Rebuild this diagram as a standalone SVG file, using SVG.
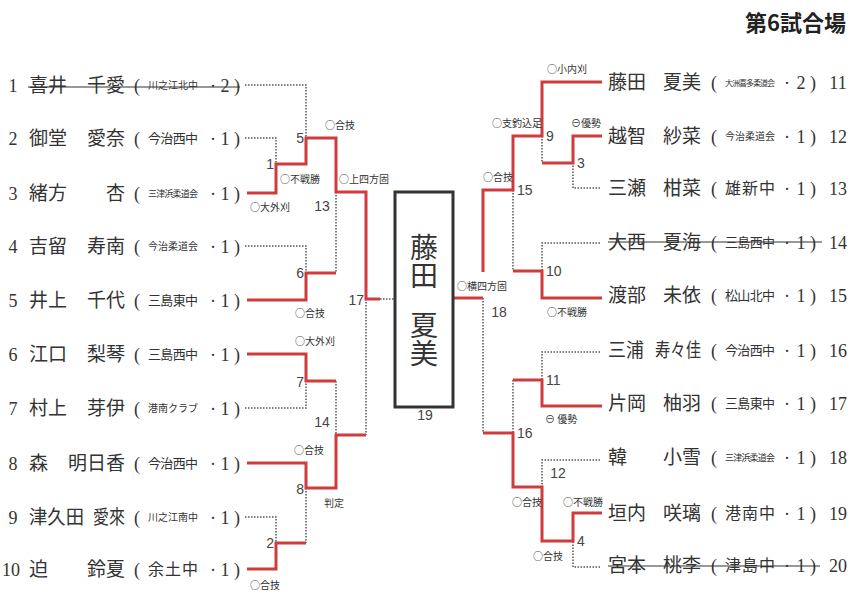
<svg xmlns="http://www.w3.org/2000/svg" width="864" height="595" viewBox="0 0 864 595">
<style>
.nm{font-family:"Liberation Serif","Noto Sans CJK JP",serif;font-size:19px;fill:#333}
.no{font-family:"Liberation Serif",serif;font-size:18px;fill:#333}
.sc{font-family:"Noto Sans CJK JP",sans-serif;fill:#333}
.lb{font-family:"Noto Sans CJK JP",sans-serif;font-size:10px;fill:#333}
.nd{font-family:"Liberation Sans",sans-serif;font-size:14px;fill:#444}
.bx{font-family:"Noto Sans CJK JP",sans-serif;font-size:28px;fill:#333;writing-mode:vertical-rl}
.w{fill:none;stroke:#d03c3c;stroke-width:3;stroke-linejoin:miter}
.d{fill:none;stroke:#555;stroke-width:1.5;stroke-dasharray:1.5 1.5}
.st{stroke:#333;stroke-width:1.2}
</style>
<rect width="864" height="595" fill="#fff"/>
<text x="846" y="31" text-anchor="end" style="font-family:'Noto Sans CJK JP',sans-serif;font-size:22px;font-weight:bold;fill:#222">第6試合場</text>

<g id="connectors">
<path class="d" d="M245,85 H306 V138"/>
<path class="d" d="M245,138 H276 V164"/>
<path class="d" d="M336,192 V273"/>
<path class="d" d="M245,246 H306 V273"/>
<path class="d" d="M366,299 V435"/>
<path class="d" d="M380,299 H394"/>
<path class="d" d="M245,408 H306 V381"/>
<path class="d" d="M336,381 V435"/>
<path class="d" d="M306,488 V543"/>
<path class="d" d="M245,517 H276 V543"/>
<path class="w" d="M247,193 H276 V164 H306 V138 H336 V192 H366 V299 H380"/>
<path class="w" d="M247,300 H306 V273 H336"/>
<path class="w" d="M247,354 H306 V381 H336"/>
<path class="w" d="M247,463 H306 V488 H336 V435 H366"/>
<path class="w" d="M247,569 H276 V543 H306"/>

<path class="d" d="M542,136 V163"/>
<path class="d" d="M600,188 H573 V163"/>
<path class="d" d="M513,190 V271"/>
<path class="d" d="M600,243 H542 V271"/>
<path class="d" d="M483,298 V433"/>
<path class="d" d="M600,352 H542 V380"/>
<path class="d" d="M513,380 V433"/>
<path class="d" d="M600,460 H542 V487"/>
<path class="d" d="M600,567 H573 V541"/>
<path class="w" d="M454,298 H483"/>
<path class="w" d="M483,272 V190 H513 V136 H542 V82 H602"/>
<path class="w" d="M602,136 H573 V163 H542"/>
<path class="w" d="M602,298 H542 V271 H513"/>
<path class="w" d="M602,406 H542 V380 H513"/>
<path class="w" d="M483,433 H513 V487 H542 V541 H573 V513 H602"/>
</g>

<g id="match-labels">
<text class="nd" x="304" y="143" text-anchor="end">5</text>
<text class="nd" x="274" y="169" text-anchor="end">1</text>
<text class="nd" x="322" y="211" text-anchor="middle">13</text>
<text class="nd" x="304" y="278" text-anchor="end">6</text>
<text class="nd" x="364" y="305" text-anchor="end">17</text>
<text class="nd" x="304" y="387" text-anchor="end">7</text>
<text class="nd" x="322" y="427" text-anchor="middle">14</text>
<text class="nd" x="304" y="494" text-anchor="end">8</text>
<text class="nd" x="274" y="548" text-anchor="end">2</text>
<text class="nd" x="425" y="420" text-anchor="middle">19</text>
<text class="nd" x="499" y="317" text-anchor="middle">18</text>
<text class="nd" x="546" y="141">9</text>
<text class="nd" x="577" y="168">3</text>
<text class="nd" x="517" y="195">15</text>
<text class="nd" x="546" y="276">10</text>
<text class="nd" x="546" y="385">11</text>
<text class="nd" x="517" y="438">16</text>
<text class="nd" x="558" y="478" text-anchor="middle">12</text>
<text class="nd" x="577" y="546">4</text>

<text class="lb" x="325" y="129">○合技</text>
<text class="lb" x="280" y="183">○不戦勝</text>
<text class="lb" x="339" y="183">○上四方固</text>
<text class="lb" x="250" y="211">○大外刈</text>
<text class="lb" x="295" y="317">○合技</text>
<text class="lb" x="295" y="345">○大外刈</text>
<text class="lb" x="294" y="454">○合技</text>
<text class="lb" x="324" y="507">判定</text>
<text class="lb" x="250" y="589">○合技</text>
<text class="lb" x="547" y="73">○小内刈</text>
<text class="lb" x="492" y="127">○支釣込足</text>
<text class="lb" x="571" y="127">⊖優勢</text>
<text class="lb" x="483" y="181">○合技</text>
<text class="lb" x="457" y="290">○横四方固</text>
<text class="lb" x="547" y="316">○不戦勝</text>
<text class="lb" x="545" y="423">⊖ 優勢</text>
<text class="lb" x="512" y="506">○合技</text>
<text class="lb" x="563" y="506">○不戦勝</text>
<text class="lb" x="533" y="560">○合技</text>
</g>

<g id="winner">
<rect x="395" y="192" width="58" height="215" fill="#fff" stroke="#333" stroke-width="3"/>
<text class="bx" x="424" y="233">藤田</text>
<text class="bx" x="424" y="311">夏美</text>
</g>

<g id="p1">
<text class="no" x="13" y="92" text-anchor="middle">1</text>
<text class="nm" x="29" y="92">喜井</text><text class="nm" x="125" y="92" text-anchor="end">千愛</text>
<text class="no" x="137" y="92" text-anchor="middle">(</text>
<text class="sc" x="148" y="89" font-size="10" textLength="50" lengthAdjust="spacing">川之江北中</text>
<text class="no" x="213" y="92" text-anchor="middle">·</text><text class="no" x="225" y="92" text-anchor="middle">2</text><text class="no" x="237" y="92" text-anchor="middle">)</text>
<line class="st" x1="28" y1="87" x2="240" y2="87"/>
</g>
<g id="p2">
<text class="no" x="13" y="145" text-anchor="middle">2</text>
<text class="nm" x="29" y="145">御堂</text><text class="nm" x="125" y="145" text-anchor="end">愛奈</text>
<text class="no" x="137" y="145" text-anchor="middle">(</text>
<text class="sc" x="148" y="143" font-size="13" textLength="50" lengthAdjust="spacing">今治西中</text>
<text class="no" x="213" y="145" text-anchor="middle">·</text><text class="no" x="225" y="145" text-anchor="middle">1</text><text class="no" x="237" y="145" text-anchor="middle">)</text>
</g>
<g id="p3">
<text class="no" x="13" y="200" text-anchor="middle">3</text>
<text class="nm" x="29" y="200">緒方</text><text class="nm" x="125" y="200" text-anchor="end">杏</text>
<text class="no" x="137" y="200" text-anchor="middle">(</text>
<text class="sc" x="148" y="197" font-size="9" textLength="50" lengthAdjust="spacing">三津浜柔道会</text>
<text class="no" x="213" y="200" text-anchor="middle">·</text><text class="no" x="225" y="200" text-anchor="middle">1</text><text class="no" x="237" y="200" text-anchor="middle">)</text>
</g>
<g id="p4">
<text class="no" x="13" y="253" text-anchor="middle">4</text>
<text class="nm" x="29" y="253">吉留</text><text class="nm" x="125" y="253" text-anchor="end">寿南</text>
<text class="no" x="137" y="253" text-anchor="middle">(</text>
<text class="sc" x="148" y="250" font-size="10" textLength="50" lengthAdjust="spacing">今治柔道会</text>
<text class="no" x="213" y="253" text-anchor="middle">·</text><text class="no" x="225" y="253" text-anchor="middle">1</text><text class="no" x="237" y="253" text-anchor="middle">)</text>
</g>
<g id="p5">
<text class="no" x="13" y="307" text-anchor="middle">5</text>
<text class="nm" x="29" y="307">井上</text><text class="nm" x="125" y="307" text-anchor="end">千代</text>
<text class="no" x="137" y="307" text-anchor="middle">(</text>
<text class="sc" x="148" y="305" font-size="13" textLength="50" lengthAdjust="spacing">三島東中</text>
<text class="no" x="213" y="307" text-anchor="middle">·</text><text class="no" x="225" y="307" text-anchor="middle">1</text><text class="no" x="237" y="307" text-anchor="middle">)</text>
</g>
<g id="p6">
<text class="no" x="13" y="361" text-anchor="middle">6</text>
<text class="nm" x="29" y="361">江口</text><text class="nm" x="125" y="361" text-anchor="end">梨琴</text>
<text class="no" x="137" y="361" text-anchor="middle">(</text>
<text class="sc" x="148" y="359" font-size="13" textLength="50" lengthAdjust="spacing">三島西中</text>
<text class="no" x="213" y="361" text-anchor="middle">·</text><text class="no" x="225" y="361" text-anchor="middle">1</text><text class="no" x="237" y="361" text-anchor="middle">)</text>
</g>
<g id="p7">
<text class="no" x="13" y="415" text-anchor="middle">7</text>
<text class="nm" x="29" y="415">村上</text><text class="nm" x="125" y="415" text-anchor="end">芽伊</text>
<text class="no" x="137" y="415" text-anchor="middle">(</text>
<text class="sc" x="148" y="412" font-size="10" textLength="50" lengthAdjust="spacing">港南クラブ</text>
<text class="no" x="213" y="415" text-anchor="middle">·</text><text class="no" x="225" y="415" text-anchor="middle">1</text><text class="no" x="237" y="415" text-anchor="middle">)</text>
</g>
<g id="p8">
<text class="no" x="13" y="470" text-anchor="middle">8</text>
<text class="nm" x="29" y="470">森</text><text class="nm" x="125" y="470" text-anchor="end">明日香</text>
<text class="no" x="137" y="470" text-anchor="middle">(</text>
<text class="sc" x="148" y="468" font-size="13" textLength="50" lengthAdjust="spacing">今治西中</text>
<text class="no" x="213" y="470" text-anchor="middle">·</text><text class="no" x="225" y="470" text-anchor="middle">1</text><text class="no" x="237" y="470" text-anchor="middle">)</text>
</g>
<g id="p9">
<text class="no" x="13" y="524" text-anchor="middle">9</text>
<text class="nm" x="29" y="524" textLength="55" lengthAdjust="spacingAndGlyphs">津久田</text><text class="nm" x="93" y="524" textLength="32" lengthAdjust="spacingAndGlyphs">愛來</text>
<text class="no" x="137" y="524" text-anchor="middle">(</text>
<text class="sc" x="148" y="521" font-size="10" textLength="50" lengthAdjust="spacing">川之江南中</text>
<text class="no" x="213" y="524" text-anchor="middle">·</text><text class="no" x="225" y="524" text-anchor="middle">1</text><text class="no" x="237" y="524" text-anchor="middle">)</text>
</g>
<g id="p10">
<text class="no" x="11" y="576" text-anchor="middle" font-size="15">10</text>
<text class="nm" x="29" y="576">迫</text><text class="nm" x="125" y="576" text-anchor="end">鈴夏</text>
<text class="no" x="137" y="576" text-anchor="middle">(</text>
<text class="sc" x="148" y="575" font-size="16" textLength="50" lengthAdjust="spacing">余土中</text>
<text class="no" x="213" y="576" text-anchor="middle">·</text><text class="no" x="225" y="576" text-anchor="middle">1</text><text class="no" x="237" y="576" text-anchor="middle">)</text>
</g>

<g id="p11">
<text class="nm" x="608" y="89">藤田</text><text class="nm" x="701" y="89" text-anchor="end">夏美</text>
<text class="no" x="714" y="89" text-anchor="middle">(</text>
<text class="sc" x="725" y="86" font-size="8" textLength="50" lengthAdjust="spacing">大洲喜多柔道会</text>
<text class="no" x="787" y="89" text-anchor="middle">·</text><text class="no" x="801" y="89" text-anchor="middle">2</text><text class="no" x="813" y="89" text-anchor="middle">)</text>
<text class="no" x="838" y="89" text-anchor="middle">11</text>
</g>
<g id="p12">
<text class="nm" x="608" y="143">越智</text><text class="nm" x="701" y="143" text-anchor="end">紗菜</text>
<text class="no" x="714" y="143" text-anchor="middle">(</text>
<text class="sc" x="725" y="140" font-size="10" textLength="50" lengthAdjust="spacing">今治柔道会</text>
<text class="no" x="787" y="143" text-anchor="middle">·</text><text class="no" x="801" y="143" text-anchor="middle">1</text><text class="no" x="813" y="143" text-anchor="middle">)</text>
<text class="no" x="838" y="143" text-anchor="middle">12</text>
</g>
<g id="p13">
<text class="nm" x="608" y="195">三瀬</text><text class="nm" x="701" y="195" text-anchor="end">柑菜</text>
<text class="no" x="714" y="195" text-anchor="middle">(</text>
<text class="sc" x="725" y="194" font-size="16" textLength="50" lengthAdjust="spacing">雄新中</text>
<text class="no" x="787" y="195" text-anchor="middle">·</text><text class="no" x="801" y="195" text-anchor="middle">1</text><text class="no" x="813" y="195" text-anchor="middle">)</text>
<text class="no" x="838" y="195" text-anchor="middle">13</text>
</g>
<g id="p14">
<text class="nm" x="608" y="249">大西</text><text class="nm" x="701" y="249" text-anchor="end">夏海</text>
<text class="no" x="714" y="249" text-anchor="middle">(</text>
<text class="sc" x="725" y="247" font-size="13" textLength="50" lengthAdjust="spacing">三島西中</text>
<text class="no" x="787" y="249" text-anchor="middle">·</text><text class="no" x="801" y="249" text-anchor="middle">1</text><text class="no" x="813" y="249" text-anchor="middle">)</text>
<text class="no" x="838" y="249" text-anchor="middle">14</text>
<line class="st" x1="608" y1="242" x2="822" y2="242"/>
</g>
<g id="p15">
<text class="nm" x="608" y="302">渡部</text><text class="nm" x="701" y="302" text-anchor="end">未依</text>
<text class="no" x="714" y="302" text-anchor="middle">(</text>
<text class="sc" x="725" y="300" font-size="13" textLength="50" lengthAdjust="spacing">松山北中</text>
<text class="no" x="787" y="302" text-anchor="middle">·</text><text class="no" x="801" y="302" text-anchor="middle">1</text><text class="no" x="813" y="302" text-anchor="middle">)</text>
<text class="no" x="838" y="302" text-anchor="middle">15</text>
</g>
<g id="p16">
<text class="nm" x="608" y="357" textLength="36" lengthAdjust="spacingAndGlyphs">三浦</text><text class="nm" x="655" y="357" textLength="46" lengthAdjust="spacingAndGlyphs">寿々佳</text>
<text class="no" x="714" y="357" text-anchor="middle">(</text>
<text class="sc" x="725" y="355" font-size="13" textLength="50" lengthAdjust="spacing">今治西中</text>
<text class="no" x="787" y="357" text-anchor="middle">·</text><text class="no" x="801" y="357" text-anchor="middle">1</text><text class="no" x="813" y="357" text-anchor="middle">)</text>
<text class="no" x="838" y="357" text-anchor="middle">16</text>
</g>
<g id="p17">
<text class="nm" x="608" y="410">片岡</text><text class="nm" x="701" y="410" text-anchor="end">柚羽</text>
<text class="no" x="714" y="410" text-anchor="middle">(</text>
<text class="sc" x="725" y="408" font-size="13" textLength="50" lengthAdjust="spacing">三島東中</text>
<text class="no" x="787" y="410" text-anchor="middle">·</text><text class="no" x="801" y="410" text-anchor="middle">1</text><text class="no" x="813" y="410" text-anchor="middle">)</text>
<text class="no" x="838" y="410" text-anchor="middle">17</text>
</g>
<g id="p18">
<text class="nm" x="608" y="464">韓</text><text class="nm" x="701" y="464" text-anchor="end">小雪</text>
<text class="no" x="714" y="464" text-anchor="middle">(</text>
<text class="sc" x="725" y="461" font-size="9" textLength="50" lengthAdjust="spacing">三津浜柔道会</text>
<text class="no" x="787" y="464" text-anchor="middle">·</text><text class="no" x="801" y="464" text-anchor="middle">1</text><text class="no" x="813" y="464" text-anchor="middle">)</text>
<text class="no" x="838" y="464" text-anchor="middle">18</text>
</g>
<g id="p19">
<text class="nm" x="608" y="520">垣内</text><text class="nm" x="701" y="520" text-anchor="end">咲璃</text>
<text class="no" x="714" y="520" text-anchor="middle">(</text>
<text class="sc" x="725" y="519" font-size="16" textLength="50" lengthAdjust="spacing">港南中</text>
<text class="no" x="787" y="520" text-anchor="middle">·</text><text class="no" x="801" y="520" text-anchor="middle">1</text><text class="no" x="813" y="520" text-anchor="middle">)</text>
<text class="no" x="838" y="520" text-anchor="middle">19</text>
</g>
<g id="p20">
<text class="nm" x="608" y="572">宮本</text><text class="nm" x="701" y="572" text-anchor="end">桃李</text>
<text class="no" x="714" y="572" text-anchor="middle">(</text>
<text class="sc" x="725" y="571" font-size="16" textLength="50" lengthAdjust="spacing">津島中</text>
<text class="no" x="787" y="572" text-anchor="middle">·</text><text class="no" x="801" y="572" text-anchor="middle">1</text><text class="no" x="813" y="572" text-anchor="middle">)</text>
<text class="no" x="838" y="572" text-anchor="middle">20</text>
<line class="st" x1="608" y1="566" x2="820" y2="566"/>
</g>
</svg>
